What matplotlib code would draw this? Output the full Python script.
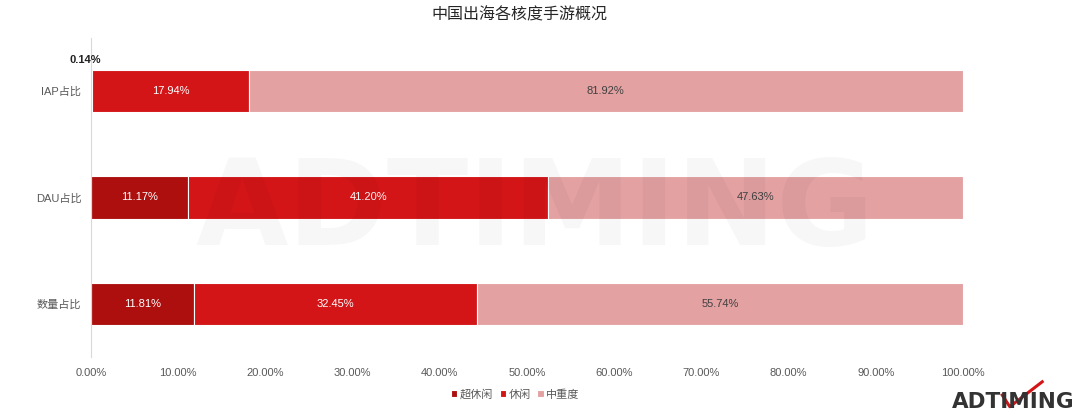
import numpy as np
import matplotlib.pyplot as plt

plt.rcParams['font.family'] = ['Liberation Sans', 'Noto Sans CJK SC', 'DejaVu Sans']

categories = ['数量占比', 'DAU占比', 'IAP占比']
series_names = ['超休闲', '休闲', '中重度']
chaoxiuxian = [11.81, 11.17, 0.14]
xiuxian = [32.45, 41.20, 17.94]
zhongzhongdu = [55.74, 47.63, 81.92]
xticks = [0, 10, 20, 30, 40, 50, 60, 70, 80, 90, 100]

colors = ['#ad0f0f', '#d31518', '#e3a1a2']
label_colors = ['white', 'white', '#404040']

fig = plt.figure(figsize=(10.8, 4.15), dpi=100)
ax = fig.add_axes([0.0843, 0.1398, 0.8074, 0.7686])

# faint watermark behind the bars
fig.text(0.495, 0.49, 'ADTIMING', fontsize=86, fontweight='bold', family='DejaVu Sans',
         color='#000000', alpha=0.03, ha='center', va='center', zorder=0)
ax.patch.set_alpha(0)

y = np.arange(len(categories))
left = np.zeros(len(categories))
for i, vals in enumerate([chaoxiuxian, xiuxian, zhongzhongdu]):
    vals = np.array(vals)
    ax.barh(y, vals, left=left, height=0.4, color=colors[i], edgecolor='white',
            linewidth=0.8, label=series_names[i])
    for j, v in enumerate(vals):
        if v < 2:
            ax.text(left[j] + v / 2 - 0.7, y[j] + 0.29, '%.2f%%' % v, ha='center', va='center',
                    fontsize=8, color='#222222', fontweight='bold')
        else:
            ax.text(left[j] + v / 2, y[j], '%.2f%%' % v, ha='center', va='center',
                    fontsize=8, color=label_colors[i])
    left += vals

ax.set_xlim(0, 100)
ax.set_ylim(-0.5, 2.5)
ax.set_yticks(y)
ax.set_yticklabels(categories, fontsize=8, color='#595959')
ax.set_xticks(xticks)
ax.set_xticklabels(['%.2f%%' % t for t in xticks], fontsize=8, color='#595959')
ax.tick_params(length=0, pad=8)
ax.tick_params(axis='y', pad=7)
for s in ['top', 'right', 'bottom']:
    ax.spines[s].set_visible(False)
ax.spines['left'].set_color('#d9d9d9')

fig.text(0.481, 0.965, '中国出海各核度手游概况', ha='center', va='center',
         fontsize=11.5, color='#262626')

fig.legend(loc='center', bbox_to_anchor=(0.477, 0.05), ncol=3, frameon=False,
           fontsize=8, handlelength=0.6, handleheight=0.6, handletextpad=0.2,
           columnspacing=0.6, labelcolor='#595959')

# logo
fig.text(0.995, 0.008, 'ADTIMING', ha='right', va='bottom', fontsize=15.5,
         fontweight='bold', family='DejaVu Sans', color='#333333')
fig.lines.append(plt.Line2D([0.928, 0.935, 0.965], [0.048, 0.02, 0.08],
                            transform=fig.transFigure, color='#d31518', linewidth=2.2))

fig.savefig('out.png', dpi=100)
